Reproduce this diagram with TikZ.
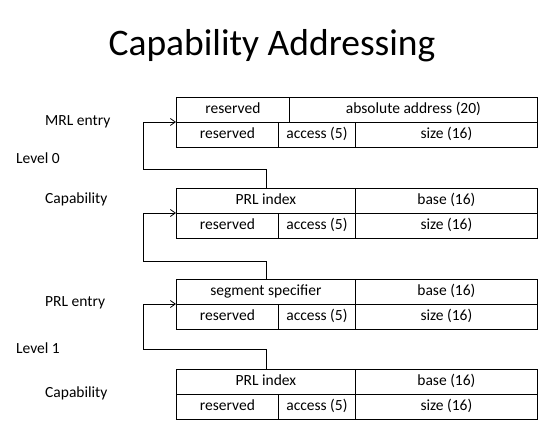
\documentclass[tikz,border=0pt]{standalone}
\usepackage{fontspec}
\setmainfont{Carlito}
\usetikzlibrary{arrows.meta}
\begin{document}
\begin{tikzpicture}[x=1pt,y=-1pt,
  cell/.style={draw=black, line width=0.8pt, inner sep=0pt, anchor=north west,
    minimum height=25pt, text height=10.5pt, text depth=3.5pt,
    font=\fontsize{15.5}{17}\selectfont},
  lbl/.style={anchor=west, inner sep=0pt, text height=10.5pt, text depth=3.5pt,
    font=\fontsize{15.5}{17}\selectfont},
  conn/.style={draw=black, line width=0.8pt, -{Straight Barb[length=5pt,width=7pt]}}]
\useasboundingbox (0,0) rectangle (551,430);
\node[font=\fontsize{37.5}{42}\selectfont, inner sep=0pt] (title) at (272,46) {Capability Addressing};
% labels
\node[lbl] (lmrl) at (45,122) {MRL entry};
\node[lbl] (lv0) at (16,160) {Level 0};
\node[lbl] (lcap1) at (45,200) {Capability};
\node[lbl] (lprl) at (45,303) {PRL entry};
\node[lbl] (lv1) at (16,350) {Level 1};
\node[lbl] (lcap2) at (45,394) {Capability};
% block 1 : MRL entry
\node[cell, minimum width=113pt] (a1) at (176,97) {reserved};
\node[cell, minimum width=248pt] (a2) at (289,97) {absolute address (20)};
\node[cell, minimum width=102pt] (a3) at (176,122) {reserved};
\node[cell, minimum width=77pt] (a4) at (278,122) {access (5)};
\node[cell, minimum width=182pt] (a5) at (355,122) {size (16)};
% block 2 : capability
\node[cell, minimum width=179pt] (b1) at (176,188) {PRL index};
\node[cell, minimum width=182pt] (b2) at (355,188) {base (16)};
\node[cell, minimum width=102pt] (b3) at (176,213) {reserved};
\node[cell, minimum width=77pt] (b4) at (278,213) {access (5)};
\node[cell, minimum width=182pt] (b5) at (355,213) {size (16)};
% block 3 : PRL entry
\node[cell, minimum width=179pt] (c1) at (176,279) {segment specifier};
\node[cell, minimum width=182pt] (c2) at (355,279) {base (16)};
\node[cell, minimum width=102pt] (c3) at (176,304) {reserved};
\node[cell, minimum width=77pt] (c4) at (278,304) {access (5)};
\node[cell, minimum width=182pt] (c5) at (355,304) {size (16)};
% block 4 : capability
\node[cell, minimum width=179pt] (d1) at (176,369) {PRL index};
\node[cell, minimum width=182pt] (d2) at (355,369) {base (16)};
\node[cell, minimum width=102pt] (d3) at (176,394) {reserved};
\node[cell, minimum width=77pt] (d4) at (278,394) {access (5)};
\node[cell, minimum width=182pt] (d5) at (355,394) {size (16)};
% connectors
\coordinate (k1) at (143,169);
\coordinate (k2) at (143,261);
\coordinate (k3) at (143,349);
\draw[conn] (b1.north) |- (k1) |- (a3.north west);
\draw[conn] (c1.north) |- (k2) |- (b3.north west);
\draw[conn] (d1.north) |- (k3) |- (c3.north west);
\end{tikzpicture}
\end{document}
